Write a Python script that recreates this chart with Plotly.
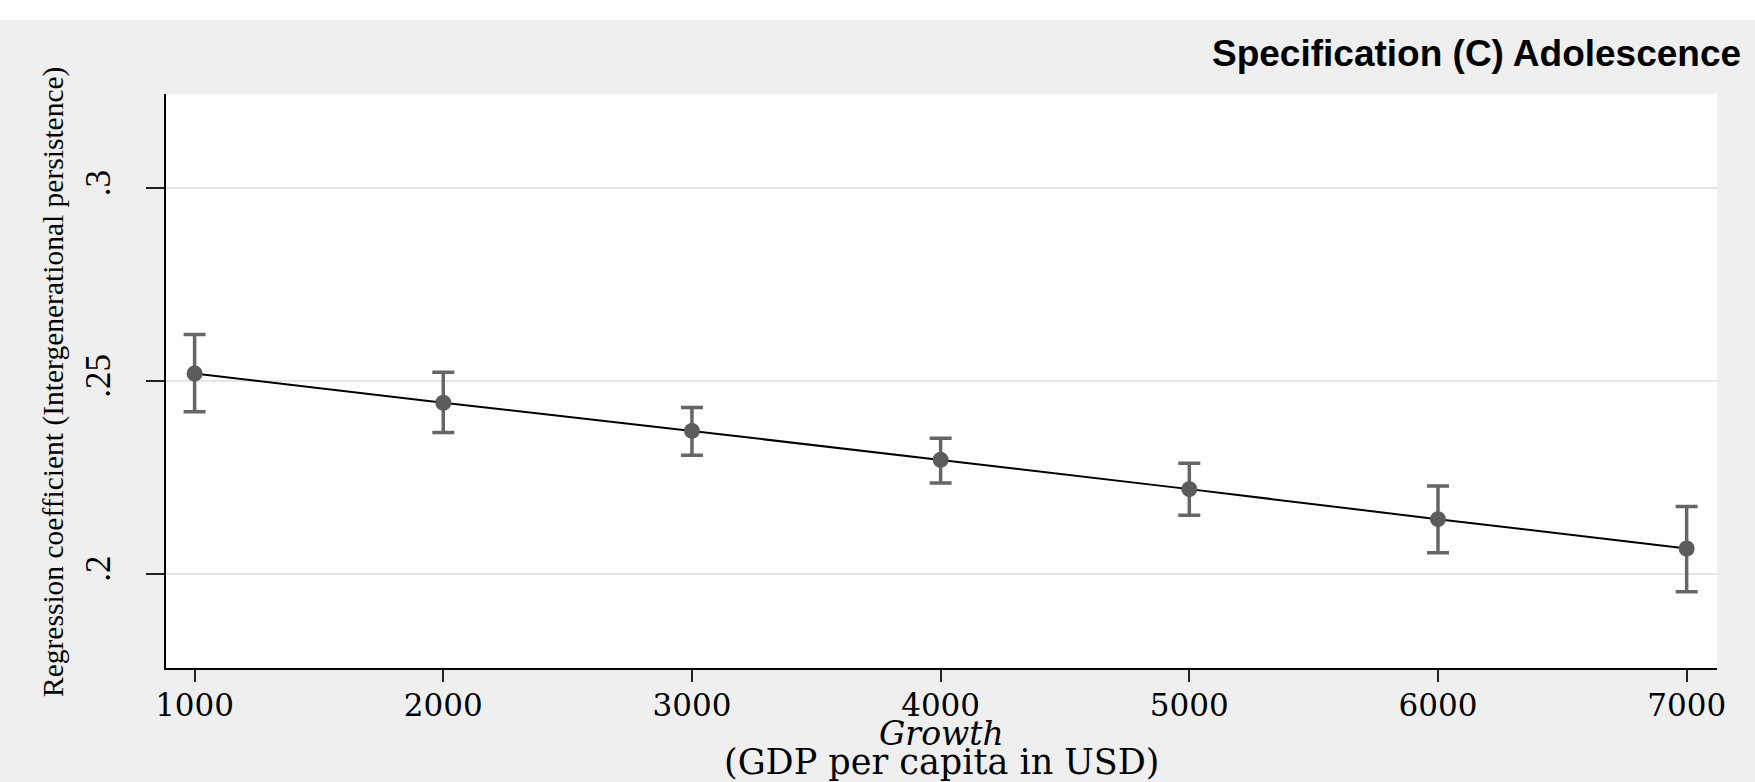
import plotly.graph_objects as go

# Marginal effect of growth on intergenerational persistence
growth = [1000, 2000, 3000, 4000, 5000, 6000, 7000]
coef = [0.2520, 0.2444, 0.2371, 0.2296, 0.2220, 0.2142, 0.2066]
ci_upper = [0.2621, 0.2523, 0.2432, 0.2352, 0.2287, 0.2228, 0.2175]
ci_lower = [0.2421, 0.2367, 0.2308, 0.2236, 0.2152, 0.2055, 0.1954]

y_ticks = [0.2, 0.25, 0.3]
y_tick_labels = [".2", ".25", ".3"]
x_ticks = [1000, 2000, 3000, 4000, 5000, 6000, 7000]

err_plus = [u - c for u, c in zip(ci_upper, coef)]
err_minus = [c - l for c, l in zip(coef, ci_lower)]

W, H = 1755, 782
L, R, T, B = 166, 38, 94, 114
plot_h = H - T - B
plot_w = W - L - R

fig = go.Figure()

fig.add_trace(go.Scatter(
    x=growth, y=coef,
    mode="lines+markers",
    line=dict(color="#000000", width=2),
    marker=dict(color="#5c5c5c", size=16, symbol="circle"),
    error_y=dict(type="data", symmetric=False, array=err_plus, arrayminus=err_minus,
                 color="#666666", thickness=3.5, width=11),
    showlegend=False,
    hoverinfo="x+y",
))

serif_x = "DejaVu Serif"
serif_y = "Liberation Serif"

fig.update_layout(
    width=W, height=H,
    margin=dict(l=L, r=R, t=T, b=B),
    paper_bgcolor="#efefef",
    plot_bgcolor="#ffffff",
    xaxis=dict(
        range=[885, 7122],
        tickvals=x_ticks,
        ticktext=[str(v) for v in x_ticks],
        ticks="outside", ticklen=12, tickwidth=2, tickcolor="#222222",
        showline=True, linecolor="#000000", linewidth=2,
        showgrid=False, zeroline=False,
        tickfont=dict(family=serif_x, size=31, color="#000000"),
        ticklabelstandoff=-3,
    ),
    yaxis=dict(
        range=[0.1756, 0.3245],
        tickvals=y_ticks,
        ticktext=y_tick_labels,
        tickangle=-90,
        ticks="outside", ticklen=18, tickwidth=2, tickcolor="#222222",
        showline=True, linecolor="#000000", linewidth=2,
        showgrid=True, gridcolor="#e6e6e6", gridwidth=2,
        zeroline=False,
        tickfont=dict(family=serif_y, size=35, color="#000000"),
        ticklabelstandoff=22,
    ),
    shapes=[
        # white strip along the top edge of the page
        dict(type="rect", xref="paper", yref="paper",
             x0=-L / plot_w, x1=1 + R / plot_w,
             y0=1 + (T - 20) / plot_h, y1=1 + T / plot_h,
             fillcolor="#ffffff", line=dict(width=0), layer="below"),
    ],
    annotations=[
        dict(text="Specification (C) Adolescence", xref="paper", yref="paper",
             x=1 + (1743 - (W - R)) / plot_w, y=1 + (T - 54) / plot_h,
             xanchor="right", yanchor="middle", showarrow=False,
             font=dict(family="Liberation Sans", size=37, color="#000000", weight="bold")),
        dict(text="Regression coefficient (Intergenerational persistence)",
             xref="paper", yref="paper",
             x=(53 - L) / plot_w, y=(H - B - 382) / plot_h,
             xanchor="center", yanchor="middle", textangle=-90, showarrow=False,
             font=dict(family=serif_y, size=29.5, color="#000000")),
        dict(text="<i>Growth</i>", xref="paper", yref="paper",
             x=0.5, y=-(733 - (H - B)) / plot_h,
             xanchor="center", yanchor="middle", showarrow=False,
             font=dict(family=serif_x, size=33, color="#000000")),
        dict(text="(GDP per capita in USD)", xref="paper", yref="paper",
             x=0.5, y=-(762 - (H - B)) / plot_h,
             xanchor="center", yanchor="middle", showarrow=False,
             font=dict(family=serif_x, size=35, color="#000000")),
    ],
)

fig.write_html("out.html")
